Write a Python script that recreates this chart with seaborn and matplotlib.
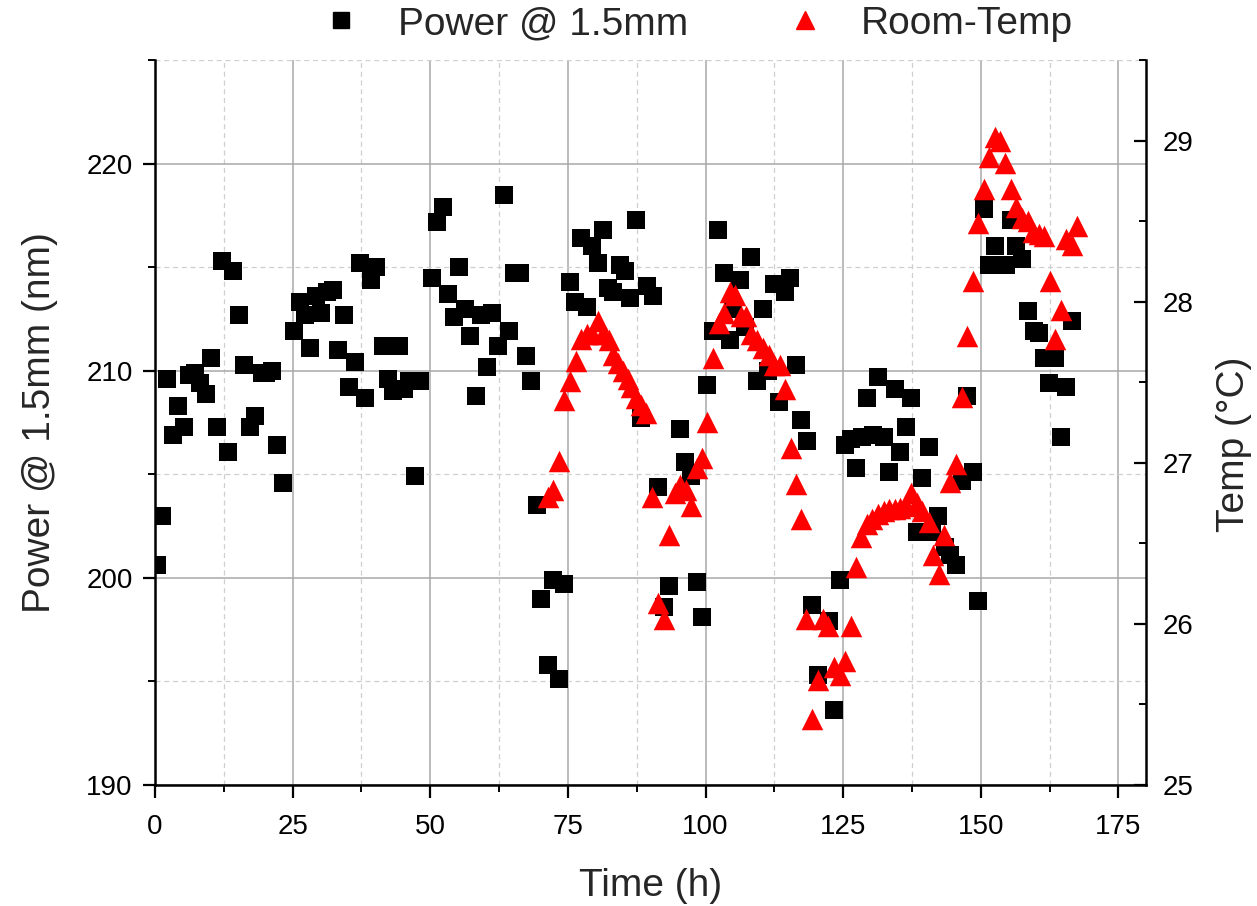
import numpy as np
import pandas as pd
import matplotlib
matplotlib.use("Agg")
import matplotlib.pyplot as plt
from matplotlib.ticker import MultipleLocator
from matplotlib.lines import Line2D
import seaborn as sns

# ---------------- data ----------------
power_time = [0.4, 1.3, 2.1, 3.2, 4.2, 5.2, 6.2, 7.3, 8.2, 9.2, 10.2, 11.2, 12.2, 13.2, 14.1,
              15.2, 16.2, 17.2, 18.2, 19.4, 20.2, 21.2, 22.1, 23.2, 25.3, 26.3, 27.3, 28.2,
              29.3, 30.2, 31.3, 32.3, 33.3, 34.3, 35.3, 36.3, 37.3, 38.2, 39.3, 40.2, 41.4,
              42.3, 43.3, 44.3, 45.2, 46.1, 47.3, 48.2, 50.4, 51.3, 52.3, 53.3, 54.3, 55.3,
              56.3, 57.3, 58.3, 59.3, 60.3, 61.3, 62.3, 63.3, 64.3, 65.2, 66.3, 67.4, 68.3,
              69.4, 70.2, 71.3, 72.3, 73.3, 74.3, 75.4, 76.3, 77.4, 78.4, 79.4, 80.4, 81.3,
              82.3, 83.2, 84.4, 85.4, 86.3, 87.4, 88.3, 89.4, 90.4, 91.4, 92.4, 93.4, 95.3,
              96.3, 97.4, 98.4, 99.4, 100.3, 101.4, 102.3, 103.3, 104.4, 105.0, 106.3, 107.1,
              108.3, 109.4, 110.4, 111.3, 112.4, 113.3, 114.4, 115.4, 116.4, 117.4, 118.5,
              119.4, 120.4, 122.4, 123.4, 124.4, 125.4, 126.4, 127.4, 128.4, 129.4, 130.4,
              131.4, 132.4, 133.3, 134.4, 135.4, 136.4, 137.4, 138.4, 139.4, 140.5, 141.1,
              142.3, 143.5, 144.4, 145.4, 146.5, 147.5, 148.5, 149.5, 150.5, 151.5, 152.5,
              153.5, 154.6, 155.4, 156.4, 157.5, 158.5, 159.6, 160.5, 161.5, 162.4, 163.5,
              164.6, 165.5, 166.5]
power_vals = [200.6, 203.0, 209.6, 206.9, 208.3, 207.3, 209.8, 209.9, 209.4, 208.9, 210.6, 207.3,
              215.3, 206.1, 214.8, 212.7, 210.3, 207.3, 207.8, 209.9, 209.9, 210.0, 206.4, 204.6,
              211.9, 213.3, 212.7, 211.1, 213.6, 212.8, 213.8, 213.9, 211.0, 212.7, 209.2, 210.4,
              215.2, 208.7, 214.4, 215.0, 211.2, 209.6, 209.0, 211.2, 209.1, 209.5, 204.9, 209.5,
              214.5, 217.2, 217.9, 213.7, 212.6, 215.0, 213.0, 211.7, 208.8, 212.7, 210.2, 212.8,
              211.2, 218.5, 211.9, 214.7, 214.7, 210.7, 209.5, 203.5, 199.0, 195.8, 199.9, 195.1,
              199.7, 214.3, 213.3, 216.4, 213.1, 216.0, 215.2, 216.8, 214.0, 213.8, 215.1, 214.8,
              213.5, 217.3, 207.7, 214.1, 213.6, 204.4, 198.6, 199.6, 207.2, 205.6, 204.9, 199.8,
              198.1, 209.3, 211.9, 216.8, 214.7, 211.5, 213.0, 214.4, 212.1, 215.5, 209.5, 213.0,
              210.0, 214.2, 208.5, 213.8, 214.5, 210.3, 207.6, 206.6, 198.7, 195.3, 197.9, 193.6,
              199.9, 206.4, 206.7, 205.3, 206.8, 208.7, 206.9, 209.7, 206.8, 205.1, 209.1, 206.1,
              207.3, 208.7, 202.2, 204.8, 206.3, 202.2, 203.0, 201.5, 201.1, 200.6, 204.7, 208.8,
              205.1, 198.9, 217.8, 215.1, 216.0, 215.1, 215.1, 217.3, 216.0, 215.4, 212.9, 211.9,
              211.8, 210.6, 209.4, 210.6, 206.8, 209.2, 212.4]

temp_time = [71.3, 72.3, 73.3, 74.3, 75.4, 76.4, 77.4, 78.4, 79.4, 80.4, 81.4, 82.4, 83.1, 84.1,
             85.0, 85.9, 86.5, 87.4, 88.3, 89.2, 90.3, 91.3, 92.4, 93.3, 94.4, 95.4, 96.4, 97.4,
             98.4, 99.4, 100.3, 101.3, 102.4, 103.3, 104.4, 105.4, 106.4, 107.4, 108.3, 109.4,
             110.4, 111.5, 112.5, 113.5, 114.4, 115.5, 116.4, 117.4, 118.3, 119.4, 120.4, 121.3,
             122.3, 123.4, 124.4, 125.4, 126.4, 127.4, 128.3, 129.3, 130.3, 131.3, 132.4, 133.4,
             134.4, 135.4, 136.4, 137.4, 138.4, 139.3, 140.5, 141.4, 142.4, 143.4, 144.4, 145.4,
             146.5, 147.5, 148.5, 149.5, 150.5, 151.4, 152.5, 153.5, 154.4, 155.5, 156.4, 157.5,
             158.5, 159.5, 160.5, 161.5, 162.5, 163.5, 164.6, 165.5, 166.6, 167.5]
temp_vals = [26.79, 26.83, 27.01, 27.39, 27.51, 27.63, 27.77, 27.80, 27.80, 27.88, 27.80, 27.76,
             27.67, 27.62, 27.57, 27.52, 27.47, 27.40, 27.36, 27.31, 26.79, 26.13, 26.03, 26.55,
             26.81, 26.86, 26.83, 26.73, 26.97, 27.03, 27.25, 27.65, 27.87, 27.93, 28.06, 28.04,
             27.91, 27.91, 27.80, 27.76, 27.71, 27.67, 27.61, 27.61, 27.46, 27.09, 26.87, 26.65,
             26.03, 25.41, 25.65, 26.03, 25.99, 25.73, 25.68, 25.77, 25.99, 26.35, 26.54, 26.62,
             26.65, 26.68, 26.70, 26.71, 26.71, 26.72, 26.73, 26.81, 26.75, 26.70, 26.63, 26.43,
             26.31, 26.55, 26.88, 26.99, 27.41, 27.79, 28.13, 28.49, 28.70, 28.90, 29.02, 29.00,
             28.86, 28.70, 28.59, 28.52, 28.50, 28.43, 28.42, 28.41, 28.13, 27.77, 27.95, 28.39,
             28.35, 28.47]

x_ticks = [0, 25, 50, 75, 100, 125, 150, 175]
y_ticks = [190, 200, 210, 220]
t_ticks = [25, 26, 27, 28, 29]

power_df = pd.DataFrame({"time": power_time, "power": power_vals})
temp_df = pd.DataFrame({"time": temp_time, "temp": temp_vals})

# ---------------- style ----------------
sns.set_theme(style="ticks")
plt.rcParams["font.family"] = ["Liberation Sans", "DejaVu Sans"]

W, H = 1257, 906
fig = plt.figure(figsize=(W / 100, H / 100), dpi=100)
ax = fig.add_axes([155 / W, 1 - 785 / H, (1146 - 155) / W, (785 - 60) / H])
ax2 = ax.twinx()

sns.scatterplot(data=power_df, x="time", y="power", marker="s", s=160, color="black",
                linewidth=0, ax=ax, legend=False, zorder=3)
sns.scatterplot(data=temp_df, x="time", y="temp", marker="^", s=240, color="#ff0000",
                linewidth=0, ax=ax2, legend=False, zorder=3)

ax.set_xlim(0, 180)
ax.set_ylim(190, 225)
ax2.set_ylim(25, 29.5)

ax.set_xticks(x_ticks)
ax.set_yticks(y_ticks)
ax2.set_yticks(t_ticks)
ax.xaxis.set_minor_locator(MultipleLocator(12.5))
ax.yaxis.set_minor_locator(MultipleLocator(5))
ax2.yaxis.set_minor_locator(MultipleLocator(0.5))

ax.set_axisbelow(True)
ax.grid(which="major", color="#a8a8a8", linewidth=1.1, linestyle="-")
ax.grid(which="minor", color="#cfcfcf", linewidth=0.9, linestyle=(0, (4, 3)))

for a in (ax, ax2):
    a.spines["top"].set_visible(False)
ax.spines["right"].set_visible(False)
ax2.spines["left"].set_visible(False)
ax2.spines["bottom"].set_visible(False)
for sp in ("left", "bottom"):
    ax.spines[sp].set_linewidth(1.8)
    ax.spines[sp].set_color("black")
ax2.spines["right"].set_linewidth(1.8)
ax2.spines["right"].set_color("black")

ax.tick_params(axis="both", which="major", direction="out", length=9, width=1.6,
               labelsize=20, colors="black")
ax.tick_params(axis="x", which="major", pad=12)
ax.tick_params(axis="y", which="major", pad=7)
ax.tick_params(axis="both", which="minor", direction="out", length=5, width=1.4, colors="black")
ax2.tick_params(axis="y", which="major", direction="in", length=9, width=1.6,
                labelsize=20, colors="black", pad=12)
ax2.tick_params(axis="y", which="minor", direction="in", length=5, width=1.4, colors="black")

ax.set_xlabel("Time (h)", fontsize=28)
ax.set_ylabel("Power @ 1.5mm (nm)", fontsize=28)
ax2.set_ylabel("Temp (\u00b0C)", fontsize=28)
ax.xaxis.set_label_coords(0.5, (785 - 868) / 725)
ax.yaxis.set_label_coords((58 - 155) / 991, 0.5)
ax2.yaxis.set_label_coords((1216 - 155) / 991, 0.47)

handles = [Line2D([], [], marker="s", linestyle="none", color="black", markersize=11.5),
           Line2D([], [], marker="^", linestyle="none", color="#ff0000", markersize=13.5)]
fig.legend(handles, ["Power @ 1.5mm", "Room-Temp"], loc="center",
           bbox_to_anchor=(0.555, 1 - 24 / H), ncol=2, frameon=False, fontsize=28,
           handlelength=1.0, handletextpad=0.95, columnspacing=2.5, borderpad=0.0)

fig.savefig("out.png", dpi=100)
